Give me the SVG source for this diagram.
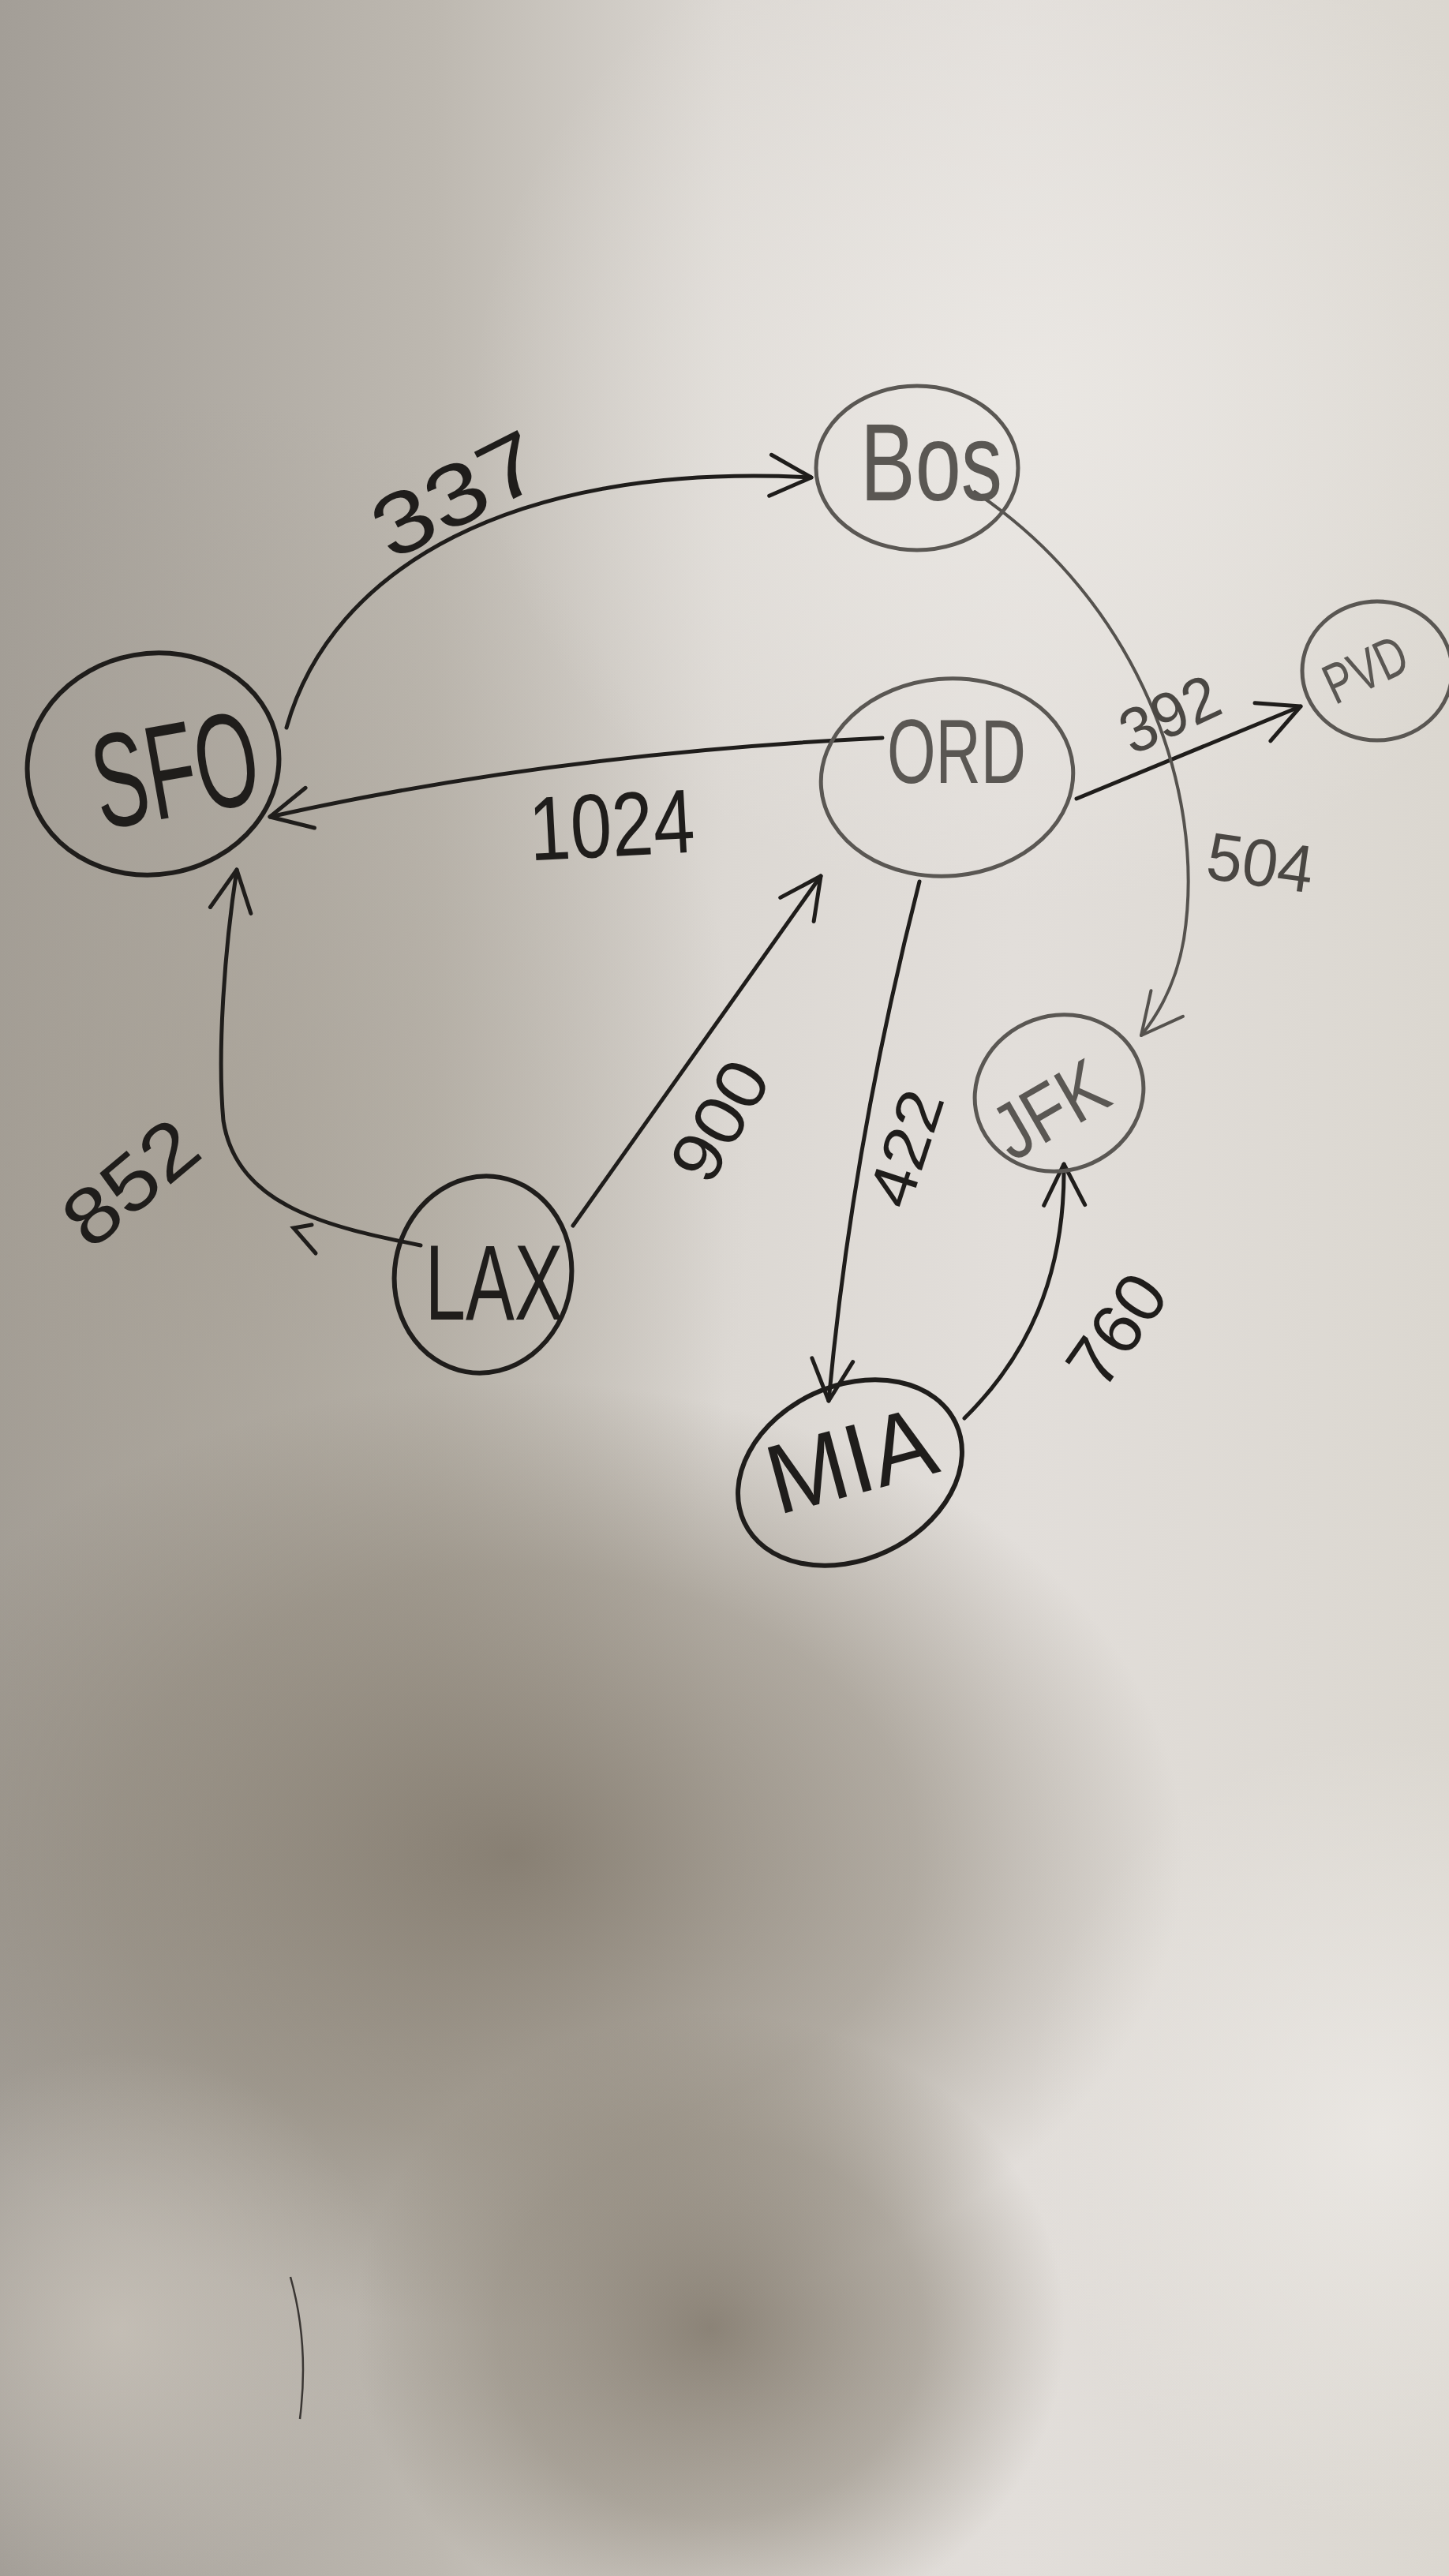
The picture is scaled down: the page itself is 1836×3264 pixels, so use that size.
<svg xmlns="http://www.w3.org/2000/svg" width="1836" height="3264" viewBox="0 0 1836 3264">
<defs>
<linearGradient id="bgx" x1="0" y1="0" x2="1" y2="0">
<stop offset="0" stop-color="#a39e97"/>
<stop offset="0.3" stop-color="#bdb8b0"/>
<stop offset="0.5" stop-color="#dcd8d3"/>
<stop offset="0.7" stop-color="#e2deda"/>
<stop offset="1" stop-color="#dbd7d0"/>
</linearGradient>
<radialGradient id="shadow" cx="0.5" cy="0.5" r="0.5">
<stop offset="0" stop-color="#7d7467" stop-opacity="0.85"/>
<stop offset="0.6" stop-color="#8a8275" stop-opacity="0.55"/>
<stop offset="1" stop-color="#8a8275" stop-opacity="0"/>
</radialGradient>
<radialGradient id="midshade" cx="0.5" cy="0.5" r="0.5">
<stop offset="0" stop-color="#a49d91" stop-opacity="0.6"/>
<stop offset="1" stop-color="#a49d91" stop-opacity="0"/>
</radialGradient>
<radialGradient id="bright" cx="0.5" cy="0.5" r="0.5">
<stop offset="0" stop-color="#ebe8e4" stop-opacity="0.9"/>
<stop offset="1" stop-color="#ebe8e4" stop-opacity="0"/>
</radialGradient>
<radialGradient id="light" cx="0.5" cy="0.5" r="0.5">
<stop offset="0" stop-color="#c9c3ba" stop-opacity="0.8"/>
<stop offset="1" stop-color="#c9c3ba" stop-opacity="0"/>
</radialGradient>
<marker id="arr" markerUnits="userSpaceOnUse" viewBox="0 0 60 60" refX="56" refY="30" markerWidth="60" markerHeight="60" orient="auto">
<path d="M4,4 L56,30 L4,56" fill="none" stroke="#1f1d1b" stroke-width="5" stroke-linecap="round" stroke-linejoin="round"/>
</marker>
<marker id="arrl" markerUnits="userSpaceOnUse" viewBox="0 0 60 60" refX="56" refY="30" markerWidth="60" markerHeight="60" orient="auto">
<path d="M4,4 L56,30 L4,56" fill="none" stroke="#55524e" stroke-width="4" stroke-linecap="round" stroke-linejoin="round"/>
</marker>
<style>
.node{fill:none;stroke:#1f1d1b;stroke-width:6}
.nodel{fill:none;stroke:#5a5753;stroke-width:5}
.lbl{font-family:"Liberation Sans","DejaVu Sans",sans-serif;fill:#1f1d1b;text-anchor:middle;dominant-baseline:central}
.lbll{font-family:"Liberation Sans","DejaVu Sans",sans-serif;fill:#5a5753;text-anchor:middle;dominant-baseline:central}
.edge{fill:none;stroke:#1f1d1b;stroke-width:5;stroke-linecap:round}
.edgel{fill:none;stroke:#55524e;stroke-width:4;stroke-linecap:round}
.num{font-family:"Liberation Sans","DejaVu Sans",sans-serif;fill:#1f1d1b;text-anchor:middle;dominant-baseline:central}
.numl{font-family:"Liberation Sans","DejaVu Sans",sans-serif;fill:#4a4743;text-anchor:middle;dominant-baseline:central}
</style>
</defs>
<g id="background">
<rect width="1836" height="3264" fill="url(#bgx)"/>
<ellipse cx="250" cy="1500" rx="700" ry="1000" fill="url(#midshade)"/>
<ellipse cx="1300" cy="500" rx="700" ry="650" fill="url(#bright)"/>
<ellipse cx="650" cy="2350" rx="850" ry="600" fill="url(#shadow)"/>
<ellipse cx="900" cy="2950" rx="450" ry="400" fill="url(#shadow)"/>
<ellipse cx="150" cy="2950" rx="350" ry="350" fill="url(#light)"/>
<ellipse cx="1750" cy="2700" rx="450" ry="500" fill="url(#bright)"/>
<path d="M368,2885 Q392,2970 380,3065" fill="none" stroke="#3a3633" stroke-width="2.5"/>
</g>
<g id="connectors">
<path id="e-sfo-bos" class="edge" d="M363,922 C420,720 650,585 1028,605" marker-end="url(#arr)"/>
<path id="e-ord-sfo" class="edge" d="M1118,935 Q700,955 342,1035" marker-end="url(#arr)"/>
<path id="e-ord-pvd" class="edge" d="M1364,1012 L1648,895" marker-end="url(#arr)"/>
<path id="e-bos-jfk" class="edgel" d="M1235,623 C1440,760 1530,1000 1500,1190 Q1488,1260 1446,1312" marker-end="url(#arrl)"/>
<path id="e-lax-sfo" class="edge" d="M533,1578 C420,1555 300,1530 283,1420 C275,1330 285,1200 300,1102" marker-end="url(#arr)"/>
<path class="edge" d="M395,1552 L372,1556 L400,1588"/>
<path id="e-lax-ord" class="edge" d="M726,1553 L1040,1110" marker-end="url(#arr)"/>
<path id="e-ord-mia" class="edge" d="M1165,1117 Q1080,1450 1050,1775" marker-end="url(#arr)"/>
<path id="e-mia-jfk" class="edge" d="M1222,1797 C1300,1720 1350,1620 1348,1475" marker-end="url(#arr)"/>
<text class="num" font-size="110" textLength="225" lengthAdjust="spacingAndGlyphs" transform="translate(578,626) rotate(-27)" x="0" y="0">337</text>
<text class="num" font-size="115" textLength="210" lengthAdjust="spacingAndGlyphs" transform="translate(775,1045) rotate(-3)" x="0" y="0">1024</text>
<text class="numl" font-size="80" textLength="130" lengthAdjust="spacingAndGlyphs" transform="translate(1482,905) rotate(-25)" x="0" y="0">392</text>
<text class="numl" font-size="85" textLength="135" lengthAdjust="spacingAndGlyphs" transform="translate(1597,1093) rotate(8)" x="0" y="0">504</text>
<text class="num" font-size="100" textLength="190" lengthAdjust="spacingAndGlyphs" transform="translate(165,1498) rotate(-40)" x="0" y="0">852</text>
<text class="num" font-size="90" textLength="160" lengthAdjust="spacingAndGlyphs" transform="translate(912,1420) rotate(-60)" x="0" y="0">900</text>
<text class="num" font-size="80" textLength="150" lengthAdjust="spacingAndGlyphs" transform="translate(1148,1455) rotate(-72)" x="0" y="0">422</text>
<text class="num" font-size="90" textLength="150" lengthAdjust="spacingAndGlyphs" transform="translate(1415,1685) rotate(-55)" x="0" y="0">760</text>
</g>
<g id="node-sfo">
<ellipse class="node" cx="194" cy="968" rx="160" ry="140" transform="rotate(-10 194 968)"/>
<text class="lbl" font-size="170" textLength="210" lengthAdjust="spacingAndGlyphs" transform="translate(222,975) rotate(-10)" x="0" y="0">SFO</text>
</g>
<g id="node-bos">
<ellipse class="nodel" cx="1162" cy="593" rx="128" ry="104"/>
<text class="lbll" font-size="140" textLength="180" lengthAdjust="spacingAndGlyphs" x="1180" y="585">Bos</text>
</g>
<g id="node-ord">
<ellipse class="nodel" cx="1200" cy="985" rx="160" ry="125" transform="rotate(-5 1200 985)"/>
<text class="lbll" font-size="115" textLength="176" lengthAdjust="spacingAndGlyphs" x="1212" y="952">ORD</text>
</g>
<g id="node-pvd">
<ellipse class="nodel" cx="1745" cy="850" rx="95" ry="88"/>
<text class="lbll" font-size="72" textLength="108" lengthAdjust="spacingAndGlyphs" transform="translate(1730,848) rotate(-25)" x="0" y="0">PVD</text>
</g>
<g id="node-jfk">
<ellipse class="nodel" cx="1342" cy="1385" rx="108" ry="98" transform="rotate(-20 1342 1385)"/>
<text class="lbll" font-size="100" textLength="150" lengthAdjust="spacingAndGlyphs" transform="translate(1330,1405) rotate(-30)" x="0" y="0">JFK</text>
</g>
<g id="node-lax">
<ellipse class="node" cx="612" cy="1615" rx="112" ry="125" transform="rotate(10 612 1615)"/>
<text class="lbl" font-size="135" textLength="175" lengthAdjust="spacingAndGlyphs" x="626" y="1625">LAX</text>
</g>
<g id="node-mia">
<ellipse class="node" cx="1077" cy="1866" rx="148" ry="110" transform="rotate(-25 1077 1866)"/>
<text class="lbl" font-size="125" textLength="215" lengthAdjust="spacingAndGlyphs" transform="translate(1078,1850) rotate(-15)" x="0" y="0">MIA</text>
</g>
</svg>
